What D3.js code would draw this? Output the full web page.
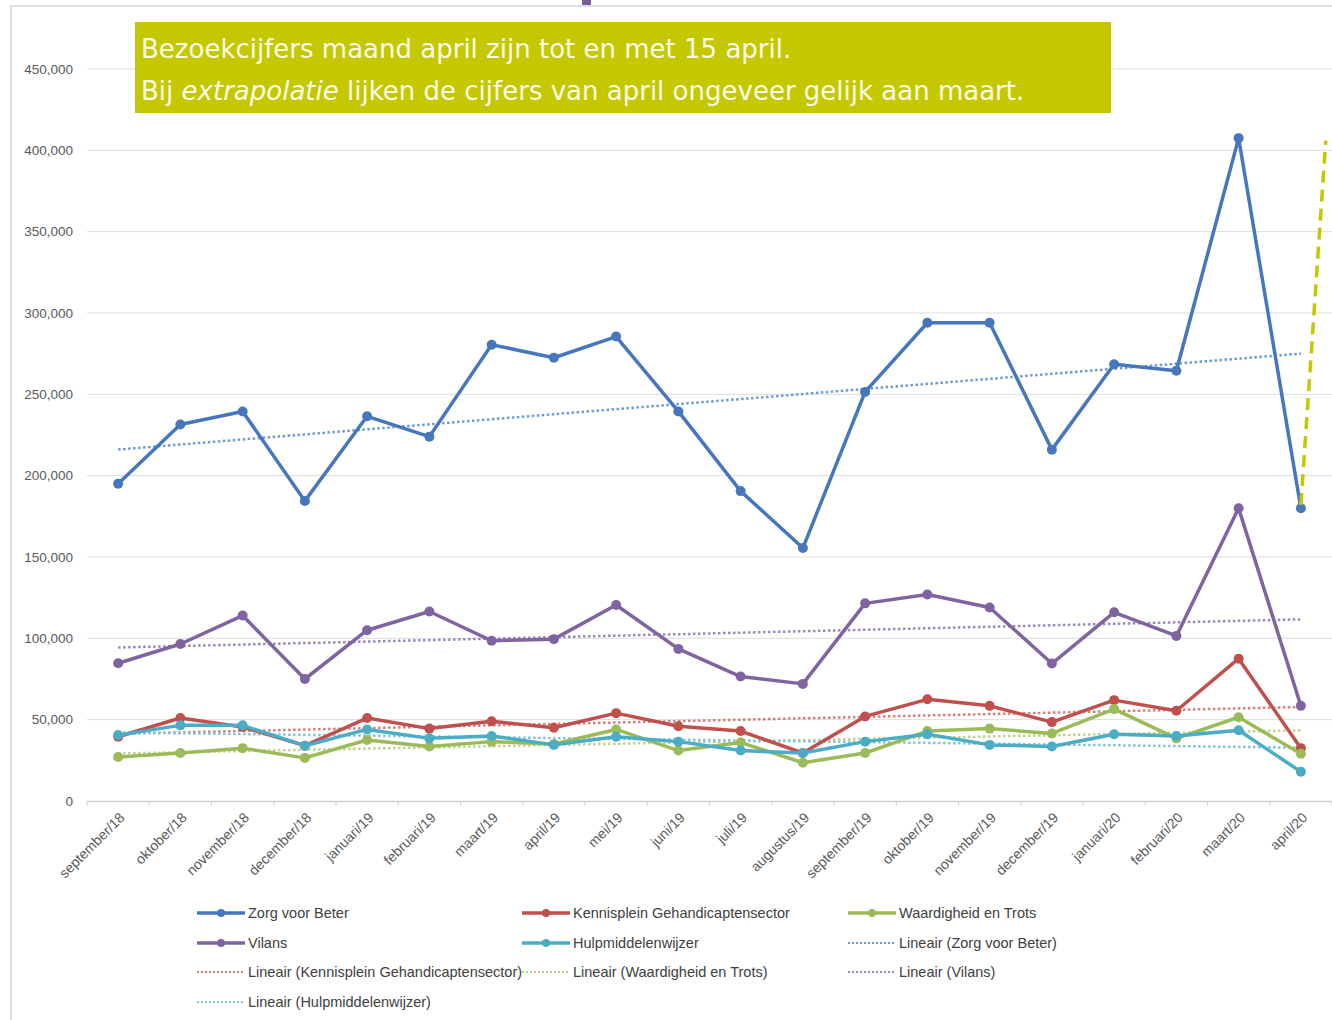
<!DOCTYPE html>
<html>
<head>
<meta charset="utf-8">
<script src="https://cdn.jsdelivr.net/npm/d3@7"></script>
<style>
  body { margin: 0; background: #fff; }
  svg { display: block; }
</style>
</head>
<body>
<div id="chart"></div>
<script>
// months on the x axis
var months = ["september/18", "oktober/18", "november/18", "december/18", "januari/19",
  "februari/19", "maart/19", "april/19", "mei/19", "juni/19", "juli/19", "augustus/19",
  "september/19", "oktober/19", "november/19", "december/19", "januari/20", "februari/20",
  "maart/20", "april/20"];

// visitor numbers per site
var zorgVoorBeter = [195000, 231500, 239500, 184500, 236500, 224000, 280500, 272500, 285500, 239500,
  190500, 155500, 251500, 294000, 294000, 216000, 268500, 264500, 407500, 180000];
var kennisplein = [39500, 51000, 45500, 34000, 51000, 44500, 49000, 45000, 54000, 46000,
  43000, 29500, 52000, 62500, 58500, 48500, 62000, 55500, 87500, 32500];
var waardigheid = [27000, 29500, 32500, 26500, 37500, 33500, 36500, 35000, 44000, 31000,
  36000, 23500, 29500, 43000, 44500, 41500, 56500, 38500, 51500, 29000];
var vilans = [84700, 96500, 114000, 75000, 105000, 116500, 98500, 99500, 120500, 93500,
  76500, 72000, 121500, 127000, 119000, 84500, 116000, 101500, 180000, 58500];
var hulpmiddelenwijzer = [40500, 46500, 46500, 34000, 44000, 38500, 40000, 34500, 39500, 36500,
  31000, 29500, 36500, 41000, 34500, 33500, 41000, 40000, 43500, 18000];

var yTicks = [0, 50000, 100000, 150000, 200000, 250000, 300000, 350000, 400000, 450000];

// extrapolation of april/20 (dashed annotation)
var extrapolatie = { from: 182000, to: 406000 };

var titleLines = ["Bezoekcijfers maand april zijn tot en met 15 april.",
  "Bij extrapolatie lijken de cijfers van april ongeveer gelijk aan maart."];

var series = [
  { name: "Zorg voor Beter", values: zorgVoorBeter, color: "#4677bd", trend: "#6f9ad6" },
  { name: "Kennisplein Gehandicaptensector", values: kennisplein, color: "#c0504d", trend: "#d77e7b" },
  { name: "Waardigheid en Trots", values: waardigheid, color: "#9bbb59", trend: "#bdd38d" },
  { name: "Vilans", values: vilans, color: "#8064a2", trend: "#9c86bf" },
  { name: "Hulpmiddelenwijzer", values: hulpmiddelenwijzer, color: "#4bacc6", trend: "#7fc6d9" }
];

var W = 1332, H = 1020;
var plotLeft = 87, plotRight = 1332, plotTop = 69, plotBottom = 801;

var svg = d3.select("#chart").append("svg")
  .attr("width", W).attr("height", H);

// frame
svg.append("path")
  .attr("d", "M11," + H + "V6H" + W)
  .attr("fill", "none").attr("stroke", "#d6d6d6").attr("stroke-width", 1.5);
svg.append("rect").attr("x", 582).attr("y", 0).attr("width", 9).attr("height", 5).attr("fill", "#7a5c9c");

var x = d3.scaleBand().domain(months).range([plotLeft, plotRight]);
var cx = function(i) { return x(months[i]) + x.bandwidth() / 2; };
var y = d3.scaleLinear().domain([0, 450000]).range([plotBottom, plotTop]);

// grid
svg.append("g").selectAll("line").data(yTicks.slice(1)).enter()
  .append("line")
    .attr("x1", plotLeft).attr("x2", plotRight)
    .attr("y1", function(d) { return y(d); })
    .attr("y2", function(d) { return y(d); })
    .attr("stroke", "#dcdcdc").attr("stroke-width", 1);

// y axis labels
var yAxis = svg.append("g")
  .attr("transform", "translate(" + plotLeft + ",0)")
  .call(d3.axisLeft(y).tickValues(yTicks).tickFormat(d3.format(",")).tickSize(0).tickPadding(14));
yAxis.select(".domain").remove();
yAxis.selectAll("text")
  .attr("fill", "#595959").style("font-family", "Liberation Sans, Arial, sans-serif").style("font-size", "13.5px");

// x axis
var xAxis = svg.append("g")
  .attr("transform", "translate(0," + plotBottom + ")")
  .call(d3.axisBottom(x).tickSize(0).tickPadding(0));
xAxis.select(".domain").attr("stroke", "#d0d0d0").attr("stroke-width", 1.5);
xAxis.selectAll(".tick line").remove();
xAxis.selectAll(".tick text")
  .attr("x", 0).attr("y", 0).attr("dy", "0.35em")
  .attr("fill", "#595959")
  .style("font-family", "Liberation Sans, Arial, sans-serif").style("font-size", "14px")
  .attr("text-anchor", "end")
  .attr("transform", "translate(4,14) rotate(-45)");
svg.append("g").selectAll("line").data(d3.range(months.length + 1)).enter()
  .append("line")
    .attr("x1", function(i) { return plotLeft + i * x.bandwidth(); })
    .attr("x2", function(i) { return plotLeft + i * x.bandwidth(); })
    .attr("y1", plotBottom).attr("y2", plotBottom + 5)
    .attr("stroke", "#d0d0d0").attr("stroke-width", 1);

// linear trend lines (least squares)
function trend(values) {
  var n = values.length, sx = 0, sy = 0, sxy = 0, sxx = 0;
  values.forEach(function(v, i) { sx += i; sy += v; sxy += i * v; sxx += i * i; });
  var b = (n * sxy - sx * sy) / (n * sxx - sx * sx);
  var a = (sy - b * sx) / n;
  return [[0, a], [n - 1, a + b * (n - 1)]];
}

var line = d3.line()
  .x(function(d, i) { return cx(i); })
  .y(function(d) { return y(d); });

series.forEach(function(s) {
  var t = trend(s.values);
  svg.append("line")
    .attr("x1", cx(t[0][0])).attr("y1", y(t[0][1]))
    .attr("x2", cx(t[1][0])).attr("y2", y(t[1][1]))
    .attr("stroke", s.trend).attr("stroke-width", 2.5)
    .attr("stroke-dasharray", "2.5,2.5");
});

series.forEach(function(s) {
  svg.append("path")
    .datum(s.values)
    .attr("fill", "none")
    .attr("stroke", s.color)
    .attr("stroke-width", 3.5)
    .attr("stroke-linejoin", "round")
    .attr("d", line);
  svg.append("g").selectAll("circle").data(s.values).enter()
    .append("circle")
      .attr("cx", function(d, i) { return cx(i); })
      .attr("cy", function(d) { return y(d); })
      .attr("r", 5)
      .attr("fill", s.color);
});

// extrapolation annotation
svg.append("line")
  .attr("x1", cx(months.length - 1)).attr("y1", y(extrapolatie.from))
  .attr("x2", cx(months.length - 1) + x.bandwidth() * 0.4).attr("y2", y(extrapolatie.to))
  .attr("stroke", "#c4c800").attr("stroke-width", 3.5)
  .attr("stroke-dasharray", "12,7");

// title box
svg.append("rect")
  .attr("x", 135).attr("y", 22).attr("width", 976).attr("height", 91)
  .attr("fill", "#c5c800");
var title = svg.append("text")
  .attr("fill", "#fbfbe8")
  .style("font-family", "DejaVu Sans, sans-serif")
  .style("font-size", "26px");
title.append("tspan").attr("x", 141).attr("y", 58).text(titleLines[0]);
var l2 = title.append("tspan").attr("x", 141).attr("y", 100);
var parts = titleLines[1].split("extrapolatie");
l2.append("tspan").text(parts[0]);
l2.append("tspan").style("font-style", "italic").text("extrapolatie");
l2.append("tspan").text(parts[1]);

// legend
var legendItems = series.map(function(s) { return { name: s.name, color: s.color, dotted: false }; })
  .concat(series.map(function(s) { return { name: "Lineair (" + s.name + ")", color: s.trend, dotted: true }; }));
var colX = [197, 522, 848], rowY = [913, 943, 972, 1002];

var legend = svg.append("g").selectAll("g").data(legendItems).enter()
  .append("g")
    .attr("transform", function(d, i) { return "translate(" + colX[i % 3] + "," + rowY[Math.floor(i / 3)] + ")"; });
legend.append("line")
  .attr("x1", 0).attr("x2", 48).attr("y1", 0).attr("y2", 0)
  .attr("stroke", function(d) { return d.color; })
  .attr("stroke-width", function(d) { return d.dotted ? 2 : 3.5; })
  .attr("stroke-dasharray", function(d) { return d.dotted ? "2,2" : null; });
legend.filter(function(d) { return !d.dotted; }).append("circle")
  .attr("cx", 24).attr("cy", 0).attr("r", 4)
  .attr("fill", function(d) { return d.color; });
legend.append("text")
  .attr("x", 51).attr("y", 0).attr("dy", "0.35em")
  .attr("fill", "#404040")
  .style("font-family", "Liberation Sans, Arial, sans-serif").style("font-size", "14.5px")
  .text(function(d) { return d.name; });
</script>
</body>
</html>
